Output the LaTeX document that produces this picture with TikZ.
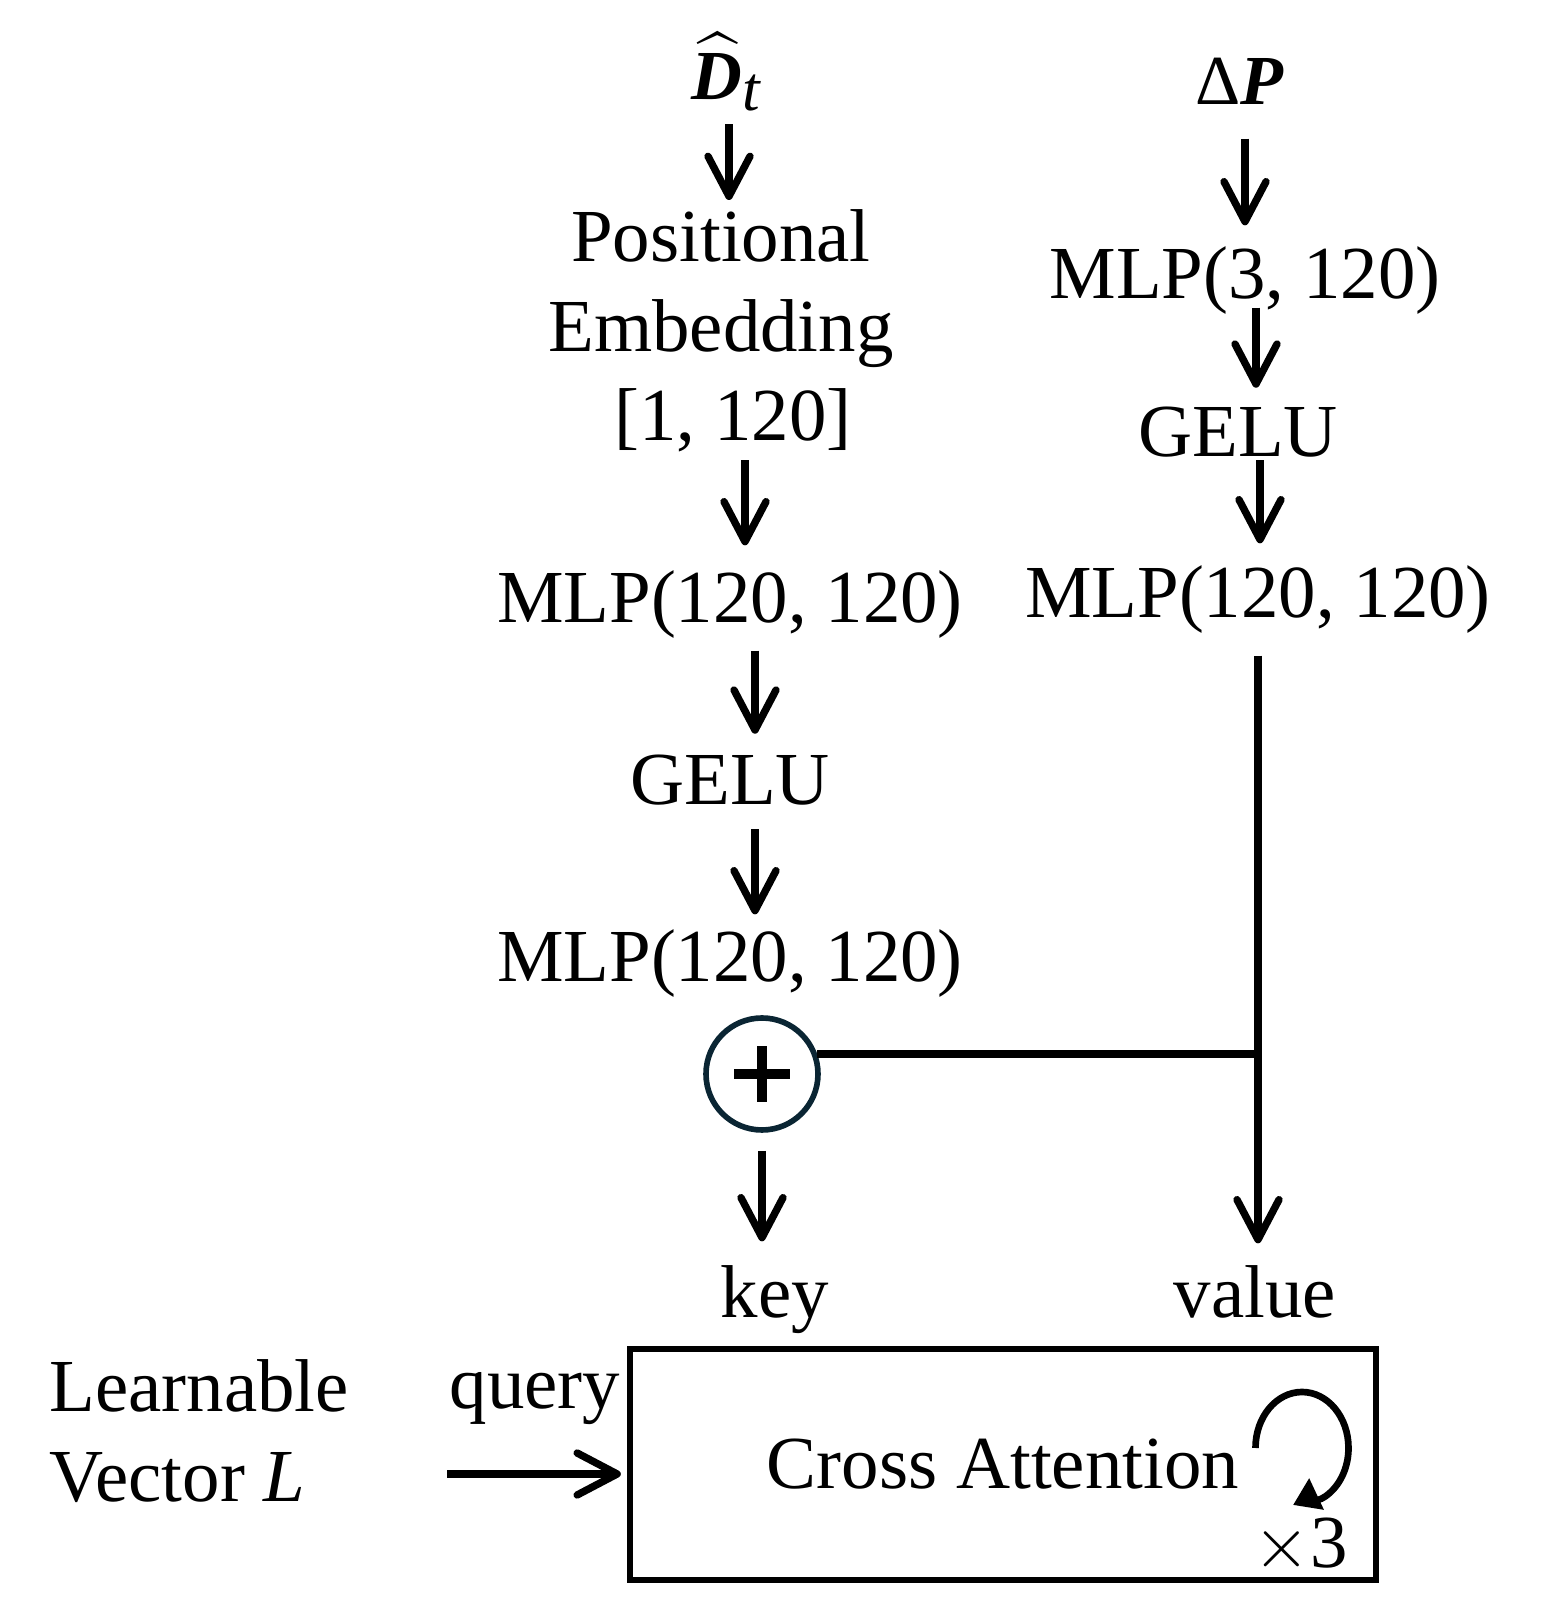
\documentclass[tikz,border=0pt]{standalone}
\usepackage{amsmath,xcolor}
\usepackage{fontspec}
\setmainfont{Liberation Serif}
\usepackage{tikz}
\usetikzlibrary{arrows.meta}
\definecolor{ringcol}{RGB}{10,37,51}

\begin{document}
\begin{tikzpicture}
                \tikzstyle{txt}=[inner sep=0pt,anchor=base,font=\fontsize{21.3}{25.5}\selectfont]
                \tikzstyle{arr}=[line width=2.1pt,-{Straight Barb[length=4mm,width=4.2mm,round]}]
                \tikzstyle{wire}=[line width=2.1pt]
                \newcommand\flow[5]{\draw[arr,shorten <=#4cm,shorten >=#5cm] ([xshift=#3cm]#1.south) -- ([xshift=#3cm]#1.south |- #2.north);}
                \useasboundingbox (0,0) rectangle (15.41,16.04);
                \node[txt,font=\fontsize{20}{24}\selectfont] at (7.27,15.04) (dt) {$\widehat{\text{\bfseries\itshape D}}_{\text{\fontsize{18}{18}\selectfont\itshape t}}$};
                \node[txt,font=\fontsize{20}{24}\selectfont] at (12.40,14.99) (dp) {Δ\textbf{\textit{P}}};
                \node[txt,anchor=north,align=center] at (7.21,13.95) (pe) {Positional\\Embedding\\\hspace*{0.24cm}[1, 120]};
                \node[txt] at (7.30,9.81) (mlpa) {MLP(120, 120)};
                \node[txt] at (7.30,7.99) (gelua) {GELU};
                \node[txt] at (7.30,6.22) (mlpb) {MLP(120, 120)};
                \node[circle,draw=ringcol,line width=1.6pt,minimum size=1.12cm] at (7.62,5.30) (plus) {};
                \draw[line width=3pt] ([xshift=-0.28cm]plus.center) -- ([xshift=0.28cm]plus.center)
                    ([yshift=-0.28cm]plus.center) -- ([yshift=0.28cm]plus.center);
                \node[txt] at (7.75,2.86) (key) {key};
                \node[txt] at (12.55,2.86) (value) {value};
                \node[txt] at (12.45,13.05) (mlpd) {MLP(3, 120)};
                \node[txt] at (12.38,11.47) (gelub) {GELU};
                \node[txt] at (12.58,9.86) (mlpc) {MLP(120, 120)};
                \node[draw,line width=1.8pt,minimum width=7.46cm,minimum height=2.31cm,inner sep=0pt,
                    font=\fontsize{21.3}{25.5}\selectfont] at (10.03,1.395) (cross) {Cross Attention};
                \node[txt] at (13.01,0.37) (times) {$\times$3};
                \node[txt] at (5.35,1.95) (query) {query};
                \node[txt,anchor=north west,align=left] at (0.49,2.45) (learn) {Learnable\\Vector \textit{L}};
                \coordinate (qin) at (4.47,1.30);
                \coordinate (spin) at (13.02,1.56);
                \flow{dt}{pe}{0.02}{0.12}{0.09}
                \flow{pe}{mlpa}{0.24}{0.07}{0.25}
                \flow{mlpa}{gelua}{0.25}{0.11}{0.21}
                \flow{gelua}{mlpb}{0.25}{0.23}{0.15}
                \flow{plus}{key}{0}{0.18}{0.24}
                \flow{dp}{mlpd}{0.05}{0.33}{0.21}
                \flow{mlpd}{gelub}{0.11}{-0.08}{0.19}
                \flow{gelub}{mlpc}{0.22}{0.02}{0.22}
                \flow{mlpc}{value}{0}{0.21}{0.22}
                \draw[wire] (plus.20) -- (plus.20 -| mlpc.south);
                \draw[arr,shorten >=0.06cm] (qin) -- (qin -| cross.west);
                \draw[line width=1.9pt,-{Triangle[length=2.6mm,width=3.3mm]}] ([xshift=-0.465cm]spin)
                    arc[start angle=180,end angle=-60,x radius=0.465cm,y radius=0.56cm]
                    to[out=215,in=25] (12.93,0.99);
            \end{tikzpicture}
\end{document}
